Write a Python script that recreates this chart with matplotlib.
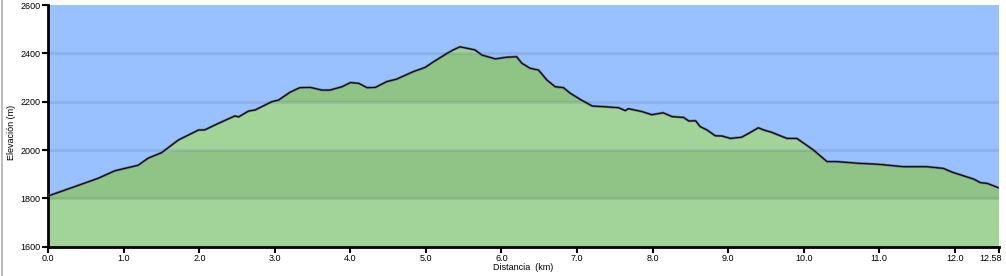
import numpy as np
import matplotlib
matplotlib.use("Agg")
import matplotlib.pyplot as plt
import matplotlib.transforms as mtransforms
from matplotlib.lines import Line2D

# Elevation profile (km, m)
distance_km = [0.00, 0.29, 0.66, 0.88, 1.19, 1.32, 1.50, 1.72, 1.99, 2.07, 2.25, 2.47,
               2.52, 2.65, 2.74, 2.96, 3.05, 3.20, 3.33, 3.47, 3.62, 3.73, 3.89, 4.00,
               4.11, 4.22, 4.33, 4.48, 4.61, 4.83, 4.99, 5.10, 5.28, 5.36, 5.45, 5.59,
               5.65, 5.74, 5.92, 6.07, 6.20, 6.27, 6.38, 6.49, 6.60, 6.71, 6.82, 6.91,
               7.04, 7.20, 7.37, 7.55, 7.64, 7.68, 7.86, 7.99, 8.14, 8.26, 8.41, 8.48,
               8.57, 8.63, 8.72, 8.83, 8.92, 9.03, 9.18, 9.29, 9.40, 9.47, 9.58, 9.69,
               9.78, 9.91, 10.13, 10.31, 10.44, 10.73, 10.99, 11.32, 11.63, 11.85, 11.97,
               12.25, 12.34, 12.43, 12.58]
elevation_m = [1810, 1842, 1883, 1914, 1937, 1966, 1989, 2041, 2083, 2083, 2110, 2141,
               2137, 2161, 2166, 2200, 2207, 2239, 2258, 2259, 2248, 2248, 2262, 2279,
               2276, 2258, 2259, 2283, 2293, 2324, 2342, 2365, 2400, 2414, 2427, 2418,
               2414, 2393, 2377, 2384, 2386, 2359, 2338, 2331, 2290, 2262, 2258, 2235,
               2210, 2182, 2179, 2175, 2163, 2171, 2159, 2146, 2154, 2138, 2135, 2120,
               2121, 2097, 2083, 2059, 2058, 2048, 2053, 2072, 2092, 2083, 2073, 2059,
               2048, 2048, 2000, 1952, 1952, 1945, 1941, 1931, 1931, 1924, 1908,
               1880, 1865, 1862, 1844]

x_ticks = [0, 1, 2, 3, 4, 5, 6, 7, 8, 9, 10, 11, 12, 12.58]
x_tick_labels = ["0.0", "1.0", "2.0", "3.0", "4.0", "5.0", "6.0", "7.0", "8.0",
                 "9.0", "10.0", "11.0", "12.0", "12.58"]
y_ticks = [1600, 1800, 2000, 2200, 2400, 2600]

sky_color = "#99c1ff"
band_light = "#a2d49a"
band_dark = "#90c486"

plt.rcParams['font.family'] = ['Liberation Sans', 'DejaVu Sans']

W, H = 1006, 276
fig = plt.figure(figsize=(W / 100, H / 100), dpi=100)
ax = fig.add_axes([48.3 / W, 1 - 246.7 / H, (998.5 - 48.3) / W, (246.7 - 5) / H])
ax.set_facecolor(sky_color)

x = np.asarray(distance_km)
y = np.asarray(elevation_m, dtype=float)

# alternating 200 m bands under the profile
for i, lo in enumerate(range(1600, 2600, 200)):
    hi = lo + 200
    top = np.clip(y, lo, hi)
    ax.fill_between(x, lo, top, where=y > lo, interpolate=True,
                    color=band_light if i % 2 == 0 else band_dark, lw=0, zorder=1)

for gy in y_ticks[1:-1]:
    ax.axhline(gy, color="#3a4a6a", alpha=0.13, lw=2.2, zorder=2)

ax.plot(x, y, color="#5a6478", lw=1.7, zorder=3, solid_capstyle="butt")
ax.plot(x, y, color="black", lw=0.7, zorder=4)

ax.set_xlim(0, 12.58)
ax.set_ylim(1600, 2600)
ax.set_xticks(x_ticks)
ax.set_xticklabels(x_tick_labels)
ax.set_yticks(y_ticks)
ax.tick_params(axis="both", direction="out", length=4, width=1.5, color="black",
               labelsize=6.5, pad=1.5)

# last distance label sits a little left of its tick, as in the original
last = ax.get_xticklabels()[-1]
last.set_transform(last.get_transform() +
                   mtransforms.ScaledTranslation(-8 / 100, 0, fig.dpi_scale_trans))

for side in ("top", "right"):
    ax.spines[side].set_visible(False)
for side in ("left", "bottom"):
    ax.spines[side].set_linewidth(2)
    ax.spines[side].set_color("black")

fig.text(523 / W, 1 - 268 / H, "Distancia  (km)", ha="center", va="center", fontsize=6.5)
fig.text(12 / W, 1 - 132 / H, "Elevación (m)", ha="center", va="center",
         rotation=90, fontsize=6.5)

# thin grey frame line at the left edge of the picture
fig.add_artist(Line2D([1.5 / W, 1.5 / W], [0, 1], color="#b0b0b0", lw=1.2))

fig.savefig("out.png", dpi=100)
